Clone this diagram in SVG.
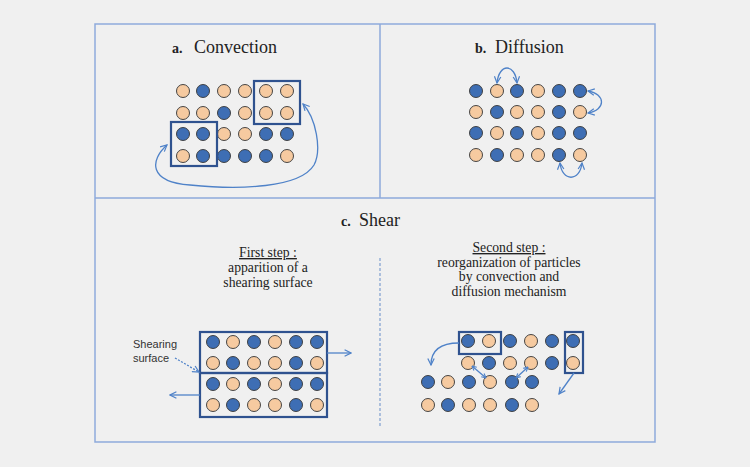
<svg xmlns="http://www.w3.org/2000/svg" width="750" height="467" viewBox="0 0 750 467">
<style>
.b{fill:#3e6eb4;stroke:#333;stroke-width:0.9}
.p{fill:#f6caa0;stroke:#333;stroke-width:0.9}
.box{fill:none;stroke:#2f528f;stroke-width:2.2}
.frame{fill:none;stroke:#8eaadb;stroke-width:1.5}
.t{font-family:"Liberation Serif","DejaVu Serif",serif;fill:#222}
.title{font-size:18px}
.lbl{font-size:14px;font-weight:bold}
.body{font-size:13.7px;text-anchor:middle}
.sans{font-family:"Liberation Sans","DejaVu Sans",sans-serif;font-size:11px;fill:#333}
.arr{fill:none;stroke:#4f82c8;stroke-width:1.3}
</style>
<defs>
<marker id="ah" viewBox="0 0 10 10" refX="9" refY="5" markerWidth="8" markerHeight="8" markerUnits="userSpaceOnUse" orient="auto-start-reverse">
<path d="M1,1 L9,5 L1,9" fill="none" stroke="#4f82c8" stroke-width="1.5"/>
</marker>
<marker id="ahs" viewBox="0 0 10 10" refX="9" refY="5" markerWidth="5.5" markerHeight="5.5" markerUnits="userSpaceOnUse" orient="auto-start-reverse">
<path d="M1,1 L9,5 L1,9" fill="none" stroke="#4f82c8" stroke-width="2"/>
</marker>
</defs>
<rect width="750" height="467" fill="#f0f0f0"/>
<g id="frame">
<rect class="frame" x="95" y="24" width="560" height="418"/>
<line class="frame" x1="95" y1="198" x2="655" y2="198"/>
<line class="frame" x1="380" y1="24" x2="380" y2="198"/>
<line x1="380" y1="258" x2="380" y2="427" stroke="#7f9fd0" stroke-width="1.2" stroke-dasharray="3,2"/>
</g>
<g id="panel-a">
<text class="t lbl" x="172" y="53">a.</text>
<text class="t title" x="194" y="53">Convection</text>
<circle class="p" cx="183" cy="91" r="6.5"/><circle class="b" cx="203" cy="91" r="6.5"/><circle class="p" cx="224" cy="91" r="6.5"/><circle class="p" cx="245" cy="91" r="6.5"/><circle class="p" cx="266" cy="91" r="6.5"/><circle class="p" cx="287" cy="91" r="6.5"/>
<circle class="p" cx="183" cy="113" r="6.5"/><circle class="p" cx="203" cy="113" r="6.5"/><circle class="b" cx="224" cy="113" r="6.5"/><circle class="p" cx="245" cy="113" r="6.5"/><circle class="p" cx="266" cy="113" r="6.5"/><circle class="p" cx="287" cy="113" r="6.5"/>
<circle class="b" cx="183" cy="134" r="6.5"/><circle class="b" cx="203" cy="134" r="6.5"/><circle class="p" cx="224" cy="134" r="6.5"/><circle class="p" cx="245" cy="134" r="6.5"/><circle class="b" cx="266" cy="134" r="6.5"/><circle class="b" cx="287" cy="134" r="6.5"/>
<circle class="p" cx="183" cy="156" r="6.5"/><circle class="b" cx="203" cy="156" r="6.5"/><circle class="b" cx="224" cy="156" r="6.5"/><circle class="b" cx="245" cy="156" r="6.5"/><circle class="b" cx="266" cy="156" r="6.5"/><circle class="p" cx="287" cy="156" r="6.5"/>
<rect class="box" x="254" y="81" width="46" height="43"/>
<rect class="box" x="171" y="122" width="46" height="44"/>
</g>
<g id="panel-b">
<text class="t lbl" x="475" y="53">b.</text>
<text class="t title" x="495" y="53">Diffusion</text>
<circle class="b" cx="476" cy="91" r="6.5"/><circle class="p" cx="497" cy="91" r="6.5"/><circle class="b" cx="517" cy="91" r="6.5"/><circle class="p" cx="538" cy="91" r="6.5"/><circle class="b" cx="559" cy="91" r="6.5"/><circle class="b" cx="580" cy="91" r="6.5"/>
<circle class="p" cx="476" cy="112" r="6.5"/><circle class="b" cx="497" cy="112" r="6.5"/><circle class="p" cx="517" cy="112" r="6.5"/><circle class="p" cx="538" cy="112" r="6.5"/><circle class="b" cx="559" cy="112" r="6.5"/><circle class="p" cx="580" cy="112" r="6.5"/>
<circle class="b" cx="476" cy="133" r="6.5"/><circle class="p" cx="497" cy="133" r="6.5"/><circle class="b" cx="517" cy="133" r="6.5"/><circle class="p" cx="538" cy="133" r="6.5"/><circle class="b" cx="559" cy="133" r="6.5"/><circle class="b" cx="580" cy="133" r="6.5"/>
<circle class="p" cx="476" cy="155" r="6.5"/><circle class="b" cx="497" cy="155" r="6.5"/><circle class="p" cx="517" cy="155" r="6.5"/><circle class="p" cx="538" cy="155" r="6.5"/><circle class="b" cx="559" cy="155" r="6.5"/><circle class="p" cx="580" cy="155" r="6.5"/>
</g>
<g id="panel-c-title">
<text class="t lbl" x="341" y="226">c.</text>
<text class="t title" x="359" y="226">Shear</text>
</g>
<g id="first-step">
<text class="t body" x="268" y="257" text-decoration="underline">First step :</text>
<text class="t body" x="268" y="272">apparition of a</text>
<text class="t body" x="268" y="287">shearing surface</text>
</g>
<g id="second-step">
<text class="t body" x="509" y="252" text-decoration="underline">Second step :</text>
<text class="t body" x="509" y="266.5">reorganization of particles</text>
<text class="t body" x="509" y="281">by convection and</text>
<text class="t body" x="509" y="295.5">diffusion mechanism</text>
</g>
<g id="shear-first">
<text class="sans" x="133" y="348">Shearing</text>
<text class="sans" x="133" y="362">surface</text>
<circle class="b" cx="213" cy="342" r="6.5"/><circle class="p" cx="233" cy="342" r="6.5"/><circle class="b" cx="254" cy="342" r="6.5"/><circle class="p" cx="275" cy="342" r="6.5"/><circle class="b" cx="296" cy="342" r="6.5"/><circle class="b" cx="317" cy="342" r="6.5"/>
<circle class="p" cx="213" cy="363" r="6.5"/><circle class="b" cx="233" cy="363" r="6.5"/><circle class="p" cx="254" cy="363" r="6.5"/><circle class="p" cx="275" cy="363" r="6.5"/><circle class="b" cx="296" cy="363" r="6.5"/><circle class="p" cx="317" cy="363" r="6.5"/>
<circle class="b" cx="213" cy="384" r="6.5"/><circle class="p" cx="233" cy="384" r="6.5"/><circle class="b" cx="254" cy="384" r="6.5"/><circle class="p" cx="275" cy="384" r="6.5"/><circle class="b" cx="296" cy="384" r="6.5"/><circle class="b" cx="317" cy="384" r="6.5"/>
<circle class="p" cx="213" cy="405" r="6.5"/><circle class="b" cx="233" cy="405" r="6.5"/><circle class="p" cx="254" cy="405" r="6.5"/><circle class="p" cx="275" cy="405" r="6.5"/><circle class="b" cx="296" cy="405" r="6.5"/><circle class="p" cx="317" cy="405" r="6.5"/>
<rect class="box" x="200" y="332" width="127" height="41"/>
<rect class="box" x="200" y="373" width="127" height="44"/>
</g>
<g id="shear-second">
<circle class="b" cx="468" cy="341" r="6.5"/><circle class="p" cx="489" cy="341" r="6.5"/><circle class="b" cx="510" cy="341" r="6.5"/><circle class="p" cx="531" cy="341" r="6.5"/><circle class="b" cx="552" cy="341" r="6.5"/><circle class="b" cx="573" cy="341" r="6.5"/>
<circle class="p" cx="468" cy="363" r="6.5"/><circle class="b" cx="489" cy="363" r="6.5"/><circle class="p" cx="510" cy="363" r="6.5"/><circle class="p" cx="531" cy="363" r="6.5"/><circle class="b" cx="552" cy="363" r="6.5"/><circle class="p" cx="573" cy="363" r="6.5"/>
<circle class="b" cx="428" cy="382" r="6.5"/><circle class="p" cx="448" cy="382" r="6.5"/><circle class="b" cx="469" cy="382" r="6.5"/><circle class="p" cx="490" cy="382" r="6.5"/><circle class="b" cx="512" cy="382" r="6.5"/><circle class="b" cx="532" cy="382" r="6.5"/>
<circle class="p" cx="428" cy="405" r="6.5"/><circle class="b" cx="448" cy="405" r="6.5"/><circle class="p" cx="469" cy="405" r="6.5"/><circle class="p" cx="490" cy="405" r="6.5"/><circle class="b" cx="512" cy="405" r="6.5"/><circle class="p" cx="532" cy="405" r="6.5"/>
<rect class="box" x="459" y="332" width="42" height="22"/>
<rect class="box" x="565" y="332" width="18" height="41"/>
</g>
<g id="connectors">
<path class="arr" d="M167,145 C150,160 148,182 190,185 C240,190 300,188 314,165 C322,150 316,118 303,104" marker-start="url(#ah)" marker-end="url(#ah)"/>
<path class="arr" d="M497,83 C499,63 515,63 517,83" marker-start="url(#ah)" marker-end="url(#ah)"/>
<path class="arr" d="M588,91 C606,94 606,110 588,113" marker-start="url(#ah)" marker-end="url(#ah)"/>
<path class="arr" d="M560,163 C562,182 580,182 582,163" marker-start="url(#ah)" marker-end="url(#ah)"/>
<path class="arr" d="M327,353 L351,353" marker-end="url(#ah)"/>
<path class="arr" d="M200,395 L170,395" marker-end="url(#ah)"/>
<path class="arr" d="M175,358 L199,372" stroke-dasharray="2,1.5" marker-end="url(#ah)"/>
<path class="arr" d="M459,343 C440,343 431,350 431,365" marker-end="url(#ah)"/>
<path class="arr" d="M574,373 L559,394" marker-end="url(#ah)"/>
<path class="arr" d="M472,366 L486,378" marker-start="url(#ahs)" marker-end="url(#ahs)"/>
<path class="arr" d="M516,378 L528,367" marker-start="url(#ahs)" marker-end="url(#ahs)"/>
</g>
</svg>
